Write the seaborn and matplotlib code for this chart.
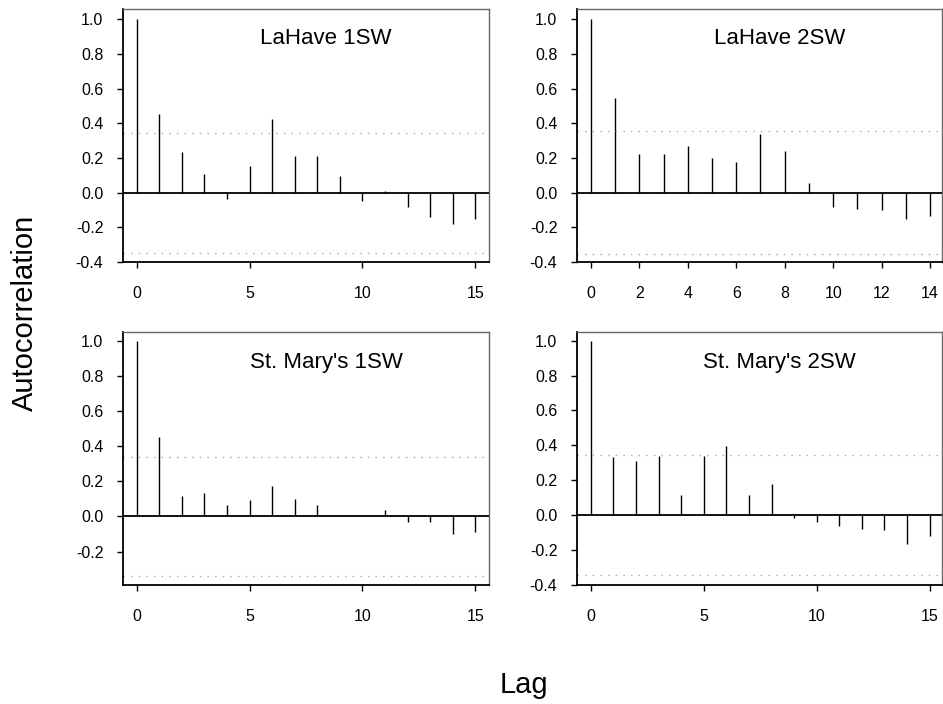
import numpy
import pandas
import seaborn
import matplotlib
matplotlib.use("Agg")
import matplotlib.pyplot

# autocorrelation values
panels = ["LaHave 1SW", "LaHave 2SW", "St. Mary's 1SW", "St. Mary's 2SW"]
lahave1sw = [1.0, 0.454, 0.235, 0.106, -0.038, 0.154, 0.423, 0.21, 0.21, 0.094,
             -0.048, 0.008, -0.083, -0.14, -0.179, -0.154]
lahave2sw = [1.0, 0.548, 0.22, 0.222, 0.266, 0.2, 0.178, 0.338, 0.237, 0.058,
             -0.081, -0.093, -0.098, -0.153, -0.137]
stmarys1sw = [1.0, 0.452, 0.116, 0.133, 0.063, 0.095, 0.175, 0.099, 0.067, 0.004,
              0.006, 0.036, -0.03, -0.032, -0.097, -0.091]
stmarys2sw = [1.0, 0.333, 0.31, 0.339, 0.117, 0.341, 0.397, 0.113, 0.178, -0.019,
              -0.038, -0.061, -0.082, -0.086, -0.169, -0.119]
# approximate 95% confidence bounds (dotted lines)
bounds = [0.346, 0.354, 0.341, 0.346]

series = [lahave1sw, lahave2sw, stmarys1sw, stmarys2sw]
frames = []
for name, values in zip(panels, series):
	frames.append(pandas.DataFrame({"panel": name, "lag": numpy.arange(len(values)), "acf": values}))
data = pandas.concat(frames, ignore_index=True)

seaborn.set_style("ticks")
rc = matplotlib.pyplot.rcParams
rc["font.family"] = ["Liberation Sans", "DejaVu Sans"]
rc["axes.unicode_minus"] = False
rc["text.color"] = "black"
rc["axes.labelcolor"] = "black"
rc["xtick.color"] = "black"
rc["ytick.color"] = "black"


def DrawStems(data, color=None, **kwargs):
	ax = matplotlib.pyplot.gca()
	ax.vlines(data["lag"], 0, data["acf"], color="black", linewidth=1.0)


g = seaborn.FacetGrid(data, col="panel", col_wrap=2, sharex=False, sharey=False, despine=False)
g.map_dataframe(DrawStems)
g.set_titles("")
g.figure.set_size_inches(9.43, 7.04)

W, H = 943.0, 704.0
positions = [
	(123, 8.7, 489, 262),
	(577, 8.7, 942.3, 262),
	(123, 332, 489, 585),
	(577, 332, 942.3, 585),
]
xlims = [(-0.6, 15.6), (-0.57, 14.5), (-0.6, 15.6), (-0.61, 15.56)]
ylims = [(-0.4, 1.06), (-0.4, 1.06), (-0.39, 1.05), (-0.402, 1.05)]
xticks = [[0, 5, 10, 15], list(range(0, 15, 2)), [0, 5, 10, 15], [0, 5, 10, 15]]

for i, ax in enumerate(g.axes.flat):
	x0, y0, x1, y1 = positions[i]
	ax.set_position([x0 / W, 1 - y1 / H, (x1 - x0) / W, (y1 - y0) / H])
	ax.axhline(0, color="black", linewidth=1.3, zorder=3)
	ax.axhline(bounds[i], color="#aaaaaa", linewidth=1.0, linestyle=(0, (1, 4.5)))
	ax.axhline(-bounds[i], color="#aaaaaa", linewidth=1.0, linestyle=(0, (1, 4.5)))
	ax.set_xticks(xticks[i])
	ax.set_yticks(numpy.round(numpy.arange(-0.4, 1.01, 0.2), 1))
	# limits after ticks, since set_ticks widens the view to fit them
	ax.set_xlim(*xlims[i])
	ax.set_ylim(*ylims[i])
	ax.yaxis.set_major_formatter(matplotlib.ticker.FormatStrFormatter("%.1f"))
	ax.tick_params(axis="y", length=4, width=1.0, pad=10.2, labelsize=11.5, color="black", labelcolor="black", labelleft=True)
	ax.tick_params(axis="x", length=4, width=1.0, pad=13.2, labelsize=11.5, color="black", labelcolor="black", labelbottom=True)
	ax.set_xlabel("")
	ax.set_ylabel("")
	for side in ["left", "bottom"]:
		ax.spines[side].set_color("black")
		ax.spines[side].set_linewidth(1.3)
	for side in ["top", "right"]:
		ax.spines[side].set_color("#666666")
		ax.spines[side].set_linewidth(1.0)
	ax.text(0.555, 0.859, panels[i], transform=ax.transAxes, ha="center", va="baseline", fontsize=16, color="black")

g.figure.text(25 / W, 1 - 313 / H, "Autocorrelation", rotation=90, ha="center", va="center", fontsize=21, color="black")
g.figure.text(523.5 / W, 1 - 693 / H, "Lag", ha="center", va="baseline", fontsize=21, color="black")

g.figure.savefig("out.png", dpi=100)
